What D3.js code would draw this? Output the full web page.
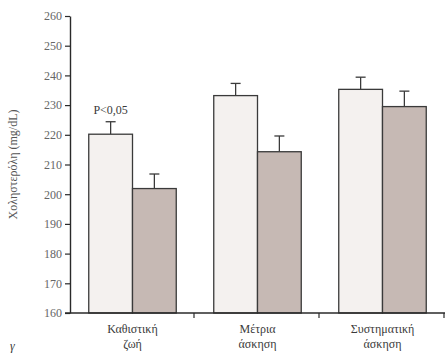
<!DOCTYPE html>
<html>
<head>
<meta charset="utf-8">
<script src="https://cdn.jsdelivr.net/npm/d3@7"></script>
<style>
  body { margin: 0; background: #fff; }
  svg text { font-family: "Liberation Serif", "Times New Roman", Tinos, "DejaVu Serif", serif !important; fill: #3a3a3a; }
</style>
</head>
<body>
<script>
const width = 445, height = 360;

// data
const categories = [["Καθιστική", "ζωή"], ["Μέτρια", "άσκηση"], ["Συστηματική", "άσκηση"]];
const groups = ["a", "b"];
const meansA = [220.2, 233.2, 235.3];
const errA   = [224.4, 237.3, 239.4];
const meansB = [201.9, 214.3, 229.5];
const errB   = [206.8, 219.6, 234.7];
const yTicks = [160, 170, 180, 190, 200, 210, 220, 230, 240, 250, 260];

const fill = { a: "#f4f1ef", b: "#c6b9b4" };

const margin = { left: 70, right: 0, top: 16, bottom: 47 };

const svg = d3.select("body").append("svg")
    .attr("width", width)
    .attr("height", height);

const x = d3.scaleBand()
    .domain(d3.range(categories.length))
    .range([margin.left, width - margin.right])
    .paddingInner(0.3)
    .paddingOuter(0.15);

const xSub = d3.scaleBand()
    .domain(groups)
    .range([0, x.bandwidth()]);

const y = d3.scaleLinear()
    .domain([160, 260])
    .range([height - margin.bottom, margin.top]);

const rows = categories.map((c, i) => ([
  { i, g: "a", v: meansA[i], e: errA[i] },
  { i, g: "b", v: meansB[i], e: errB[i] }
])).flat();

// error bars (drawn first so bar outline sits on top)
const err = svg.append("g")
    .attr("stroke", "#3a3a3a")
    .attr("stroke-width", 1.3);

err.selectAll("line.v")
  .data(rows)
  .join("line")
    .attr("class", "v")
    .attr("x1", d => x(d.i) + xSub(d.g) + xSub.bandwidth() / 2)
    .attr("x2", d => x(d.i) + xSub(d.g) + xSub.bandwidth() / 2)
    .attr("y1", d => y(d.v))
    .attr("y2", d => y(d.e));

err.selectAll("line.cap")
  .data(rows)
  .join("line")
    .attr("class", "cap")
    .attr("x1", d => x(d.i) + xSub(d.g) + xSub.bandwidth() / 2 - 5)
    .attr("x2", d => x(d.i) + xSub(d.g) + xSub.bandwidth() / 2 + 5)
    .attr("y1", d => y(d.e))
    .attr("y2", d => y(d.e));

svg.append("g")
  .selectAll("rect")
  .data(rows)
  .join("rect")
    .attr("x", d => x(d.i) + xSub(d.g))
    .attr("y", d => y(d.v))
    .attr("width", xSub.bandwidth())
    .attr("height", d => y(160) - y(d.v))
    .attr("fill", d => fill[d.g])
    .attr("stroke", "#3a3a3a")
    .attr("stroke-width", 1.3);

// y axis
const yAxis = svg.append("g")
    .attr("transform", `translate(${margin.left},0)`)
    .call(d3.axisLeft(y).tickValues(yTicks).tickSize(5).tickPadding(3).tickSizeOuter(0))
    .attr("font-family", null);
yAxis.select(".domain").attr("stroke", "#2a2a2a").attr("stroke-width", 1.4);
yAxis.selectAll(".tick line").attr("stroke", "#2a2a2a").attr("stroke-width", 1.2);
yAxis.selectAll(".tick text")
    .attr("font-size", 12)
    .style("fill", "#666");

// x axis: ticks at band boundaries
const xBase = y(160);
svg.append("line")
    .attr("x1", margin.left - 5)
    .attr("x2", width)
    .attr("y1", xBase)
    .attr("y2", xBase)
    .attr("stroke", "#2a2a2a")
    .attr("stroke-width", 1.6);

const step = x.step();
svg.append("g")
  .selectAll("line")
  .data(d3.range(1, categories.length + 1))
  .join("line")
    .attr("x1", i => margin.left + i * step - 1)
    .attr("x2", i => margin.left + i * step - 1)
    .attr("y1", xBase)
    .attr("y2", xBase + 5)
    .attr("stroke", "#2a2a2a")
    .attr("stroke-width", 1.2);

// category labels
const cat = svg.append("g")
  .selectAll("text")
  .data(categories)
  .join("text")
    .attr("text-anchor", "middle")
    .attr("font-size", 12);
cat.each(function(lines, i) {
  d3.select(this).selectAll("tspan")
    .data(lines)
    .join("tspan")
      .attr("x", x(i) + x.bandwidth() / 2)
      .attr("y", (d, k) => xBase + 20 + k * 15)
      .text(d => d);
});

// y label
svg.append("text")
    .attr("transform", `translate(17,${(margin.top + xBase) / 2}) rotate(-90)`)
    .attr("text-anchor", "middle")
    .attr("font-size", 12)
    .style("fill", "#555")
    .text("Χοληστερόλη (mg/dL)");

// significance note
svg.append("text")
    .attr("x", x(0) + xSub("a") + xSub.bandwidth() / 2)
    .attr("y", y(errA[0]) - 8)
    .attr("text-anchor", "middle")
    .attr("font-size", 12)
    .text("P<0,05");

// panel letter
svg.append("text")
    .attr("x", 10)
    .attr("y", 350)
    .attr("font-size", 12)
    .attr("font-style", "italic")
    .text("γ");
</script>
</body>
</html>
